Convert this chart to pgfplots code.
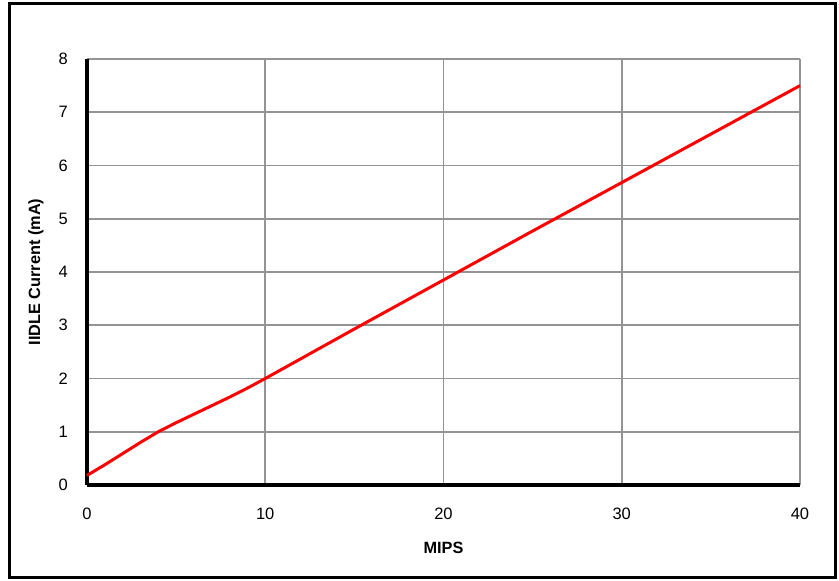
\documentclass[border=0pt]{standalone}
\usepackage{fontspec}
\setmainfont{Liberation Sans}
\usepackage{pgfplots}
\pgfplotsset{compat=1.18}
\begin{document}
\begin{tikzpicture}
\path[use as bounding box] (-87pt,-96pt) rectangle (752pt,485pt);
\draw[line width=3pt] (-77pt,-93pt) rectangle (748pt,481pt);
\begin{axis}[
  at={(0,0)}, anchor=south west,
  scale only axis, width=713pt, height=426pt,
  xmin=0, xmax=40, ymin=0, ymax=8,
  xtick={0,10,20,30,40}, ytick={0,1,...,8},
  axis x line*=bottom, axis y line*=left,
  axis line style={line width=4pt, black, -},
  major tick length=0pt,
  grid=major,
  grid style={line width=1.6pt, color=black!42},
  /pgf/number format/assume math mode=true,
  tick label style={font=\fontsize{16.5}{19}\selectfont, inner sep=0pt},
  xticklabel style={anchor=north, yshift=-23pt},
  yticklabel style={anchor=east, xshift=-19pt},
  label style={font=\bfseries\fontsize{16.3}{19}\selectfont},
  xlabel={MIPS},
  ylabel={IIDLE Current (mA)},
  xlabel style={at={(axis description cs:0.5,-0.148)}, anchor=center},
  ylabel style={at={(axis description cs:-0.0715,0.5)}, anchor=center, rotate=0},
  clip=false,
]
\addplot[red, line width=3pt, line join=round] coordinates {
 (0,0.18) (1,0.38) (2,0.59) (3,0.80) (4,1.0) (5,1.17) (6,1.33) (7,1.49) (8,1.65) (9,1.82) (10,2.0)
 (15,2.93) (20,3.85) (25,4.77) (30,5.68) (35,6.59) (40,7.5)
};
\end{axis}
\end{tikzpicture}
\end{document}
